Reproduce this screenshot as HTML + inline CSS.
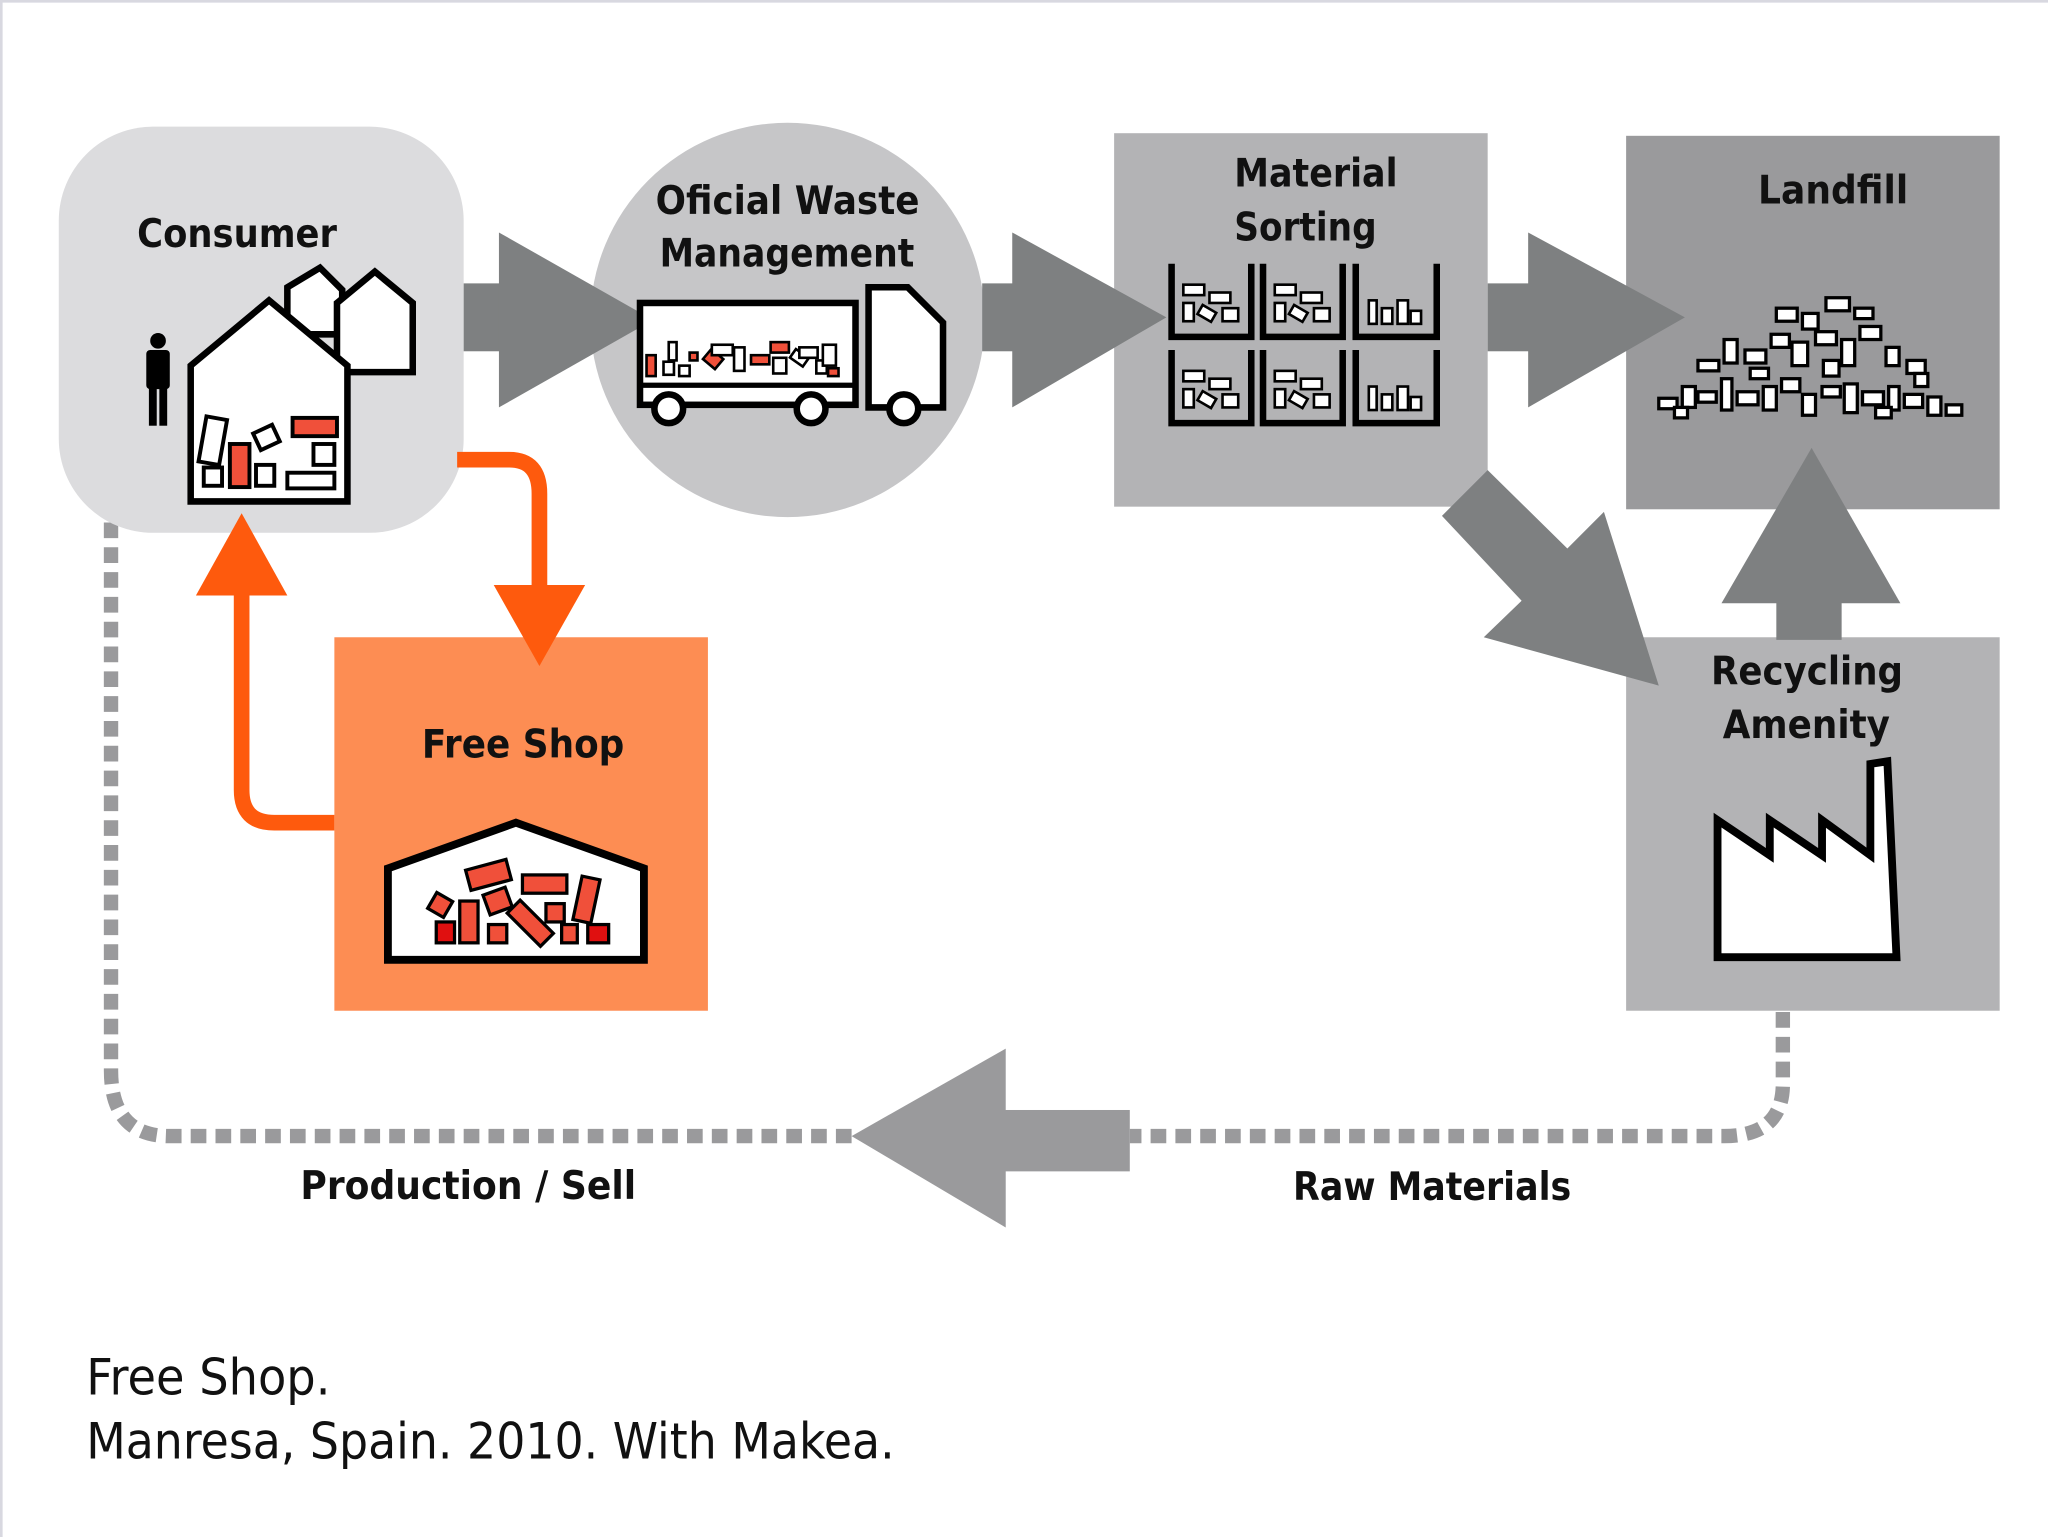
<!DOCTYPE html>
<html><head><meta charset="utf-8"><style>
html,body{margin:0;padding:0;background:#fff;}
svg{display:block;}
text{font-family:"DejaVu Sans","Liberation Sans",sans-serif;}
</style></head><body>
<svg width="2048" height="1537" viewBox="0 0 1568 1177" preserveAspectRatio="none" xmlns="http://www.w3.org/2000/svg">
<rect x="0" y="0" width="1568" height="1177" fill="#fff"/>
<line x1="1" y1="0" x2="1" y2="1177" stroke="#d8d8e0" stroke-width="2"/>
<line x1="0" y1="1" x2="1568" y2="1" stroke="#d8d8e0" stroke-width="2"/>

<path d="M1365,775 L1365,830 Q1365,870 1320,870 L865,870" fill="none" stroke="#9a9a9c" stroke-width="11" stroke-dasharray="12,7"/>
<path d="M652,870 L130,870 Q85,870 85,820 L85,395" fill="none" stroke="#9a9a9c" stroke-width="11" stroke-dasharray="12,7"/>
<rect x="765" y="850" width="100" height="47" fill="#9a9a9c"/>
<polygon points="652,870 770,803 770,940" fill="#9a9a9c"/>

<rect x="45" y="97" width="310" height="311" rx="72" fill="#dcdcde"/>
<circle cx="603" cy="245" r="151" fill="#c6c6c8"/>
<rect x="853" y="102" width="286" height="286" fill="#b3b3b5"/>
<rect x="1245" y="104" width="286" height="286" fill="#9a9a9c"/>
<rect x="1245" y="488" width="286" height="286" fill="#b3b3b5"/>
<rect x="256" y="488" width="286" height="286" fill="#fd8d53"/>

<g fill="#7e8081">
<rect x="355" y="217" width="32" height="52"/>
<polygon points="382,178 382,312 500,245"/>
<rect x="752" y="217" width="28" height="52"/>
<polygon points="775,178 775,312 893,243"/>
<rect x="1139" y="217" width="35" height="52"/>
<polygon points="1170,178 1170,312 1290,243"/>
<polygon points="1139,360 1200,420 1228,392 1270,525 1136,488 1165,460 1104,395"/>
<rect x="1360" y="455" width="50" height="35"/>
<polygon points="1318,462 1455,462 1387,343"/>
</g>

<path d="M350,352 L390,352 Q413,352 413,378 L413,455" fill="none" stroke="#fe5a0d" stroke-width="12"/>
<polygon points="378,448 448,448 413,510" fill="#fe5a0d"/>
<path d="M256,630 L210,630 Q185,630 185,605 L185,450" fill="none" stroke="#fe5a0d" stroke-width="12"/>
<polygon points="150,456 220,456 185,393" fill="#fe5a0d"/>

<g stroke="#000" stroke-width="5" fill="#fff">
<polygon points="220,220 245,205 262,222 262,256 220,256"/>
<polygon points="258,232 287,208 316,232 316,285 258,285"/>
<polygon points="146,280 206,230 266,280 266,384 146,384"/>
</g>
<g stroke="#000" stroke-width="3" fill="#fff">
<rect x="155" y="320" width="16" height="35" transform="rotate(10 163 337)"/>
<rect x="176" y="340" width="15" height="33" fill="#f0503a"/>
<rect x="196" y="328" width="16" height="14" transform="rotate(-25 204 335)"/>
<rect x="224" y="320" width="34" height="14" fill="#f0503a"/>
<rect x="240" y="340" width="16" height="16"/>
<rect x="156" y="358" width="14" height="14"/>
<rect x="196" y="356" width="14" height="16"/>
<rect x="220" y="362" width="36" height="12"/>
</g>
<g fill="#000">
<circle cx="121" cy="261" r="6"/>
<rect x="112" y="268" width="18" height="30" rx="3"/>
<rect x="114" y="296" width="6" height="30"/>
<rect x="122" y="296" width="6" height="30"/>
</g>

<g stroke="#000" stroke-width="5" fill="#fff">
<rect x="490" y="232" width="165" height="78"/>
<path d="M665,220 L695,220 L722,247 L722,312 L665,312 Z"/>
<circle cx="512" cy="313" r="11"/>
<circle cx="621" cy="313" r="11"/>
<circle cx="692" cy="313" r="11"/>
</g>
<line x1="490" y1="295" x2="655" y2="295" stroke="#000" stroke-width="4"/>
<g stroke="#000" stroke-width="2" fill="#fff">
<rect x="495" y="272" width="7" height="16" fill="#f0503a"/>
<rect x="508" y="277" width="8" height="10"/><rect x="520" y="280" width="8" height="8"/>
<rect x="512" y="262" width="6" height="14"/><rect x="528" y="270" width="6" height="6" fill="#f0503a"/>
<rect x="540" y="270" width="12" height="10" fill="#f0503a" transform="rotate(40 546 275)"/>
<rect x="545" y="264" width="16" height="8"/><rect x="562" y="266" width="8" height="18"/>
<rect x="575" y="272" width="14" height="7" fill="#f0503a"/><rect x="590" y="262" width="14" height="8" fill="#f0503a"/>
<rect x="592" y="274" width="10" height="12"/><rect x="606" y="270" width="12" height="8" transform="rotate(35 612 274)"/>
<rect x="612" y="266" width="14" height="8"/><rect x="625" y="276" width="8" height="10"/>
<rect x="630" y="264" width="10" height="16"/><rect x="634" y="282" width="8" height="6" fill="#f0503a"/>
</g>

<g stroke="#000" stroke-width="5" fill="none">
<path d="M897,202 L897,258 L958,258 L958,202"/>
<path d="M967,202 L967,258 L1028,258 L1028,202"/>
<path d="M1038,202 L1038,258 L1100,258 L1100,202"/>
<path d="M897,268 L897,324 L958,324 L958,268"/>
<path d="M967,268 L967,324 L1028,324 L1028,268"/>
<path d="M1038,268 L1038,324 L1100,324 L1100,268"/>
</g>
<g stroke="#000" stroke-width="2" fill="#fff">
<rect x="906" y="218" width="16" height="8"/><rect x="926" y="224" width="16" height="8"/><rect x="906" y="232" width="8" height="14"/><rect x="918" y="236" width="12" height="8" transform="rotate(30 924 240)"/><rect x="936" y="236" width="12" height="10"/>
<rect x="976" y="218" width="16" height="8"/><rect x="996" y="224" width="16" height="8"/><rect x="976" y="232" width="8" height="14"/><rect x="988" y="236" width="12" height="8" transform="rotate(30 994 240)"/><rect x="1006" y="236" width="12" height="10"/>
<rect x="1048" y="230" width="6" height="18"/><rect x="1058" y="236" width="8" height="12"/><rect x="1070" y="230" width="8" height="18"/><rect x="1080" y="238" width="8" height="10"/>
<rect x="906" y="284" width="16" height="8"/><rect x="926" y="290" width="16" height="8"/><rect x="906" y="298" width="8" height="14"/><rect x="918" y="302" width="12" height="8" transform="rotate(30 924 306)"/><rect x="936" y="302" width="12" height="10"/>
<rect x="976" y="284" width="16" height="8"/><rect x="996" y="290" width="16" height="8"/><rect x="976" y="298" width="8" height="14"/><rect x="988" y="302" width="12" height="8" transform="rotate(30 994 306)"/><rect x="1006" y="302" width="12" height="10"/>
<rect x="1048" y="296" width="6" height="18"/><rect x="1058" y="302" width="8" height="12"/><rect x="1070" y="296" width="8" height="18"/><rect x="1080" y="304" width="8" height="10"/>
</g>

<g stroke="#000" stroke-width="2.5" fill="#fff">
<rect x="1270" y="305" width="14" height="8"/><rect x="1288" y="296" width="10" height="16"/><rect x="1300" y="300" width="14" height="8"/><rect x="1318" y="290" width="8" height="24"/><rect x="1330" y="300" width="16" height="10"/>
<rect x="1350" y="296" width="10" height="18"/><rect x="1364" y="290" width="14" height="10"/><rect x="1380" y="302" width="10" height="16"/><rect x="1395" y="296" width="14" height="8"/><rect x="1412" y="294" width="10" height="22"/>
<rect x="1426" y="300" width="16" height="10"/><rect x="1446" y="296" width="8" height="18"/><rect x="1458" y="302" width="14" height="10"/><rect x="1476" y="304" width="10" height="14"/><rect x="1490" y="310" width="12" height="8"/>
<rect x="1300" y="276" width="16" height="8"/><rect x="1320" y="260" width="10" height="18"/><rect x="1336" y="268" width="16" height="10"/><rect x="1356" y="256" width="14" height="10"/><rect x="1372" y="262" width="12" height="18"/>
<rect x="1390" y="254" width="16" height="10"/><rect x="1410" y="260" width="10" height="20"/><rect x="1424" y="250" width="16" height="10"/><rect x="1444" y="266" width="10" height="14"/><rect x="1460" y="276" width="14" height="10"/>
<rect x="1360" y="236" width="16" height="10"/><rect x="1380" y="240" width="12" height="12"/><rect x="1398" y="228" width="18" height="10"/><rect x="1420" y="236" width="14" height="8"/><rect x="1340" y="282" width="14" height="8"/><rect x="1396" y="276" width="12" height="12"/>
<rect x="1282" y="312" width="10" height="8"/><rect x="1436" y="312" width="12" height="8"/><rect x="1466" y="286" width="10" height="10"/>
</g>

<path d="M1315,733 L1315,628 L1355,655 L1355,628 L1395,655 L1395,628 L1432,655 L1432,585 L1445,583 L1452,733 Z" fill="#fff" stroke="#000" stroke-width="6" stroke-linejoin="miter"/>

<path d="M297,665 L395,630 L493,665 L493,735 L297,735 Z" fill="#fff" stroke="#000" stroke-width="6"/>
<g stroke="#000" stroke-width="2.5" fill="#f0503a">
<rect x="358" y="662" width="32" height="16" transform="rotate(-15 374 670)"/>
<rect x="400" y="670" width="34" height="14"/>
<rect x="442" y="672" width="14" height="34" transform="rotate(12 449 689)"/>
<rect x="330" y="686" width="14" height="14" transform="rotate(30 337 693)"/>
<rect x="352" y="690" width="14" height="32"/>
<rect x="372" y="682" width="18" height="16" transform="rotate(-20 381 690)"/>
<rect x="388" y="700" width="36" height="14" transform="rotate(45 406 707)"/>
<rect x="334" y="706" width="14" height="16" fill="#e01010"/>
<rect x="374" y="708" width="14" height="14"/>
<rect x="418" y="692" width="14" height="14"/>
<rect x="430" y="708" width="12" height="14"/>
<rect x="450" y="708" width="16" height="14" fill="#e01010"/>
</g>

<g font-weight="bold" font-size="30" fill="#111" lengthAdjust="spacingAndGlyphs">
<text x="105" y="189" textLength="153" lengthAdjust="spacingAndGlyphs">Consumer</text>
<text x="502" y="164" textLength="202" lengthAdjust="spacingAndGlyphs">Oficial Waste</text>
<text x="505" y="204" textLength="195" lengthAdjust="spacingAndGlyphs">Management</text>
<text x="945" y="143" textLength="125" lengthAdjust="spacingAndGlyphs">Material</text>
<text x="945" y="184" textLength="109" lengthAdjust="spacingAndGlyphs">Sorting</text>
<text x="1346" y="156" textLength="115" lengthAdjust="spacingAndGlyphs">Landfill</text>
<text x="1310" y="524" textLength="147" lengthAdjust="spacingAndGlyphs">Recycling</text>
<text x="1319" y="565" textLength="128" lengthAdjust="spacingAndGlyphs">Amenity</text>
<text x="323" y="580" textLength="155" lengthAdjust="spacingAndGlyphs">Free Shop</text>
<text x="230" y="918" textLength="257" lengthAdjust="spacingAndGlyphs">Production / Sell</text>
<text x="990" y="919" textLength="213" lengthAdjust="spacingAndGlyphs">Raw Materials</text>
</g>
<g font-size="38" fill="#111">
<text x="66" y="1068" textLength="187" lengthAdjust="spacingAndGlyphs">Free Shop.</text>
<text x="66" y="1117" textLength="619" lengthAdjust="spacingAndGlyphs">Manresa, Spain. 2010. With Makea.</text>
</g>
</svg>
</body></html>
